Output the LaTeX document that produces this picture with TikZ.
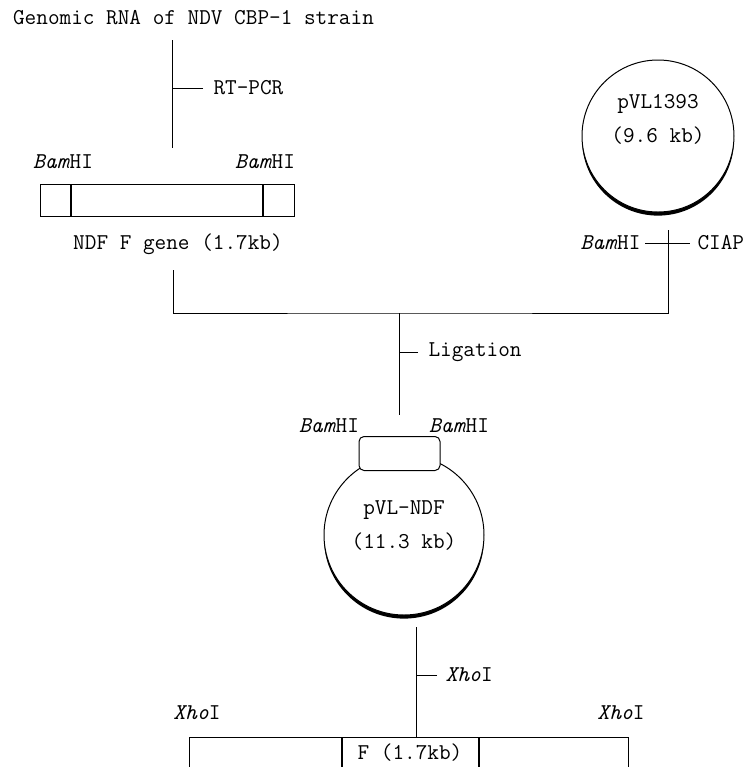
\documentclass[tikz,border=0pt]{standalone}
\usetikzlibrary{positioning,shadows,calc}

\begin{document}
\begin{tikzpicture}[
  x=0.5pt,y=-0.5pt,line width=0.5pt,
  every node/.style={font=\ttfamily\fontsize{11.3}{17}\selectfont,inner sep=0pt},
  seg/.style={draw,rectangle,minimum height=16pt,inner sep=0pt},
  plasmid/.style={draw,circle,fill=white,drop shadow={shadow xshift=0pt,shadow yshift=-1.8pt,opacity=1,fill=black}},
  insert/.style={draw,rectangle,rounded corners=2.5pt,fill=white,minimum width=40.5pt,minimum height=17pt}
]
  \useasboundingbox (0,0) rectangle (745,767);
  \clip (0,0) rectangle (745,767);

  \node (title) at (193.5,18) {Genomic RNA of NDV CBP-1 strain};
  \node[anchor=west] (rtpcr) at (213,88) {RT-PCR};

  \node[seg,minimum width=95.5pt] (fragM) at (166.5,200) {};
  \node[seg,minimum width=15pt,left=0pt of fragM] (fragL) {};
  \node[seg,minimum width=15.5pt,right=0pt of fragM] (fragR) {};
  \node (bamA) at (63,162) {\textit{Bam}HI};
  \node (bamB) at (265,162) {\textit{Bam}HI};
  \node (fragtxt) at (178,244) {NDF F gene (1.7kb)};

  \node[plasmid,minimum size=76pt] (pvl) at (658,136) {};
  \node[align=center] (pvltxt) at (658,119) {pVL1393\\(9.6 kb)};
  \node[anchor=east] (bamC) at (641,243) {\textit{Bam}HI};
  \node[anchor=west] (ciap) at (697,243) {CIAP};

  \node[anchor=west] (lig) at (428,352) {Ligation};

  \node[plasmid,minimum size=80pt] (ndf) at (404,535) {};
  \node[align=center] (ndftxt) at (404,526) {pVL-NDF\\(11.3 kb)};
  \node[insert] (ins) at (399.5,453.5) {};
  \node (bamD) at (329,426) {\textit{Bam}HI};
  \node (bamE) at (459,426) {\textit{Bam}HI};

  \node[anchor=west] (xho) at (445,675) {\textit{Xho}I};
  \node[seg,minimum width=68pt] (fM) at (410,753) {F (1.7kb)};
  \node[seg,minimum width=76pt,left=0pt of fM] (fL) {};
  \node[seg,minimum width=74.5pt,right=0pt of fM] (fR) {};
  \node (xhoA) at (197,713) {\textit{Xho}I};
  \node (xhoB) at (621,713) {\textit{Xho}I};

  \coordinate (rtTop) at (172,40);
  \coordinate (rtBot) at (172,148);
  \coordinate (fragOut) at (173,270);
  \coordinate (join) at (399,313);
  \coordinate (vecOut) at (668,230);
  \coordinate (ligEnd) at (399,415);
  \coordinate (xhoTop) at (416,627);

  \draw (rtTop) -- (rtBot);
  \draw[shorten <=5pt] (rtpcr.west) -- (rtpcr.west -| rtTop);
  \draw (fragOut) |- (join) -| (vecOut);
  \draw[shorten <=2pt,shorten >=3.5pt] (bamC.east) -- (ciap.west);
  \draw (join) -- (ligEnd);
  \draw[shorten <=5pt] (lig.west) -- (lig.west -| join);
  \draw (xhoTop) -- (xhoTop |- fM.north);
  \draw[shorten <=4pt] (xho.west) -- (xho.west -| xhoTop);
\end{tikzpicture}
\end{document}
